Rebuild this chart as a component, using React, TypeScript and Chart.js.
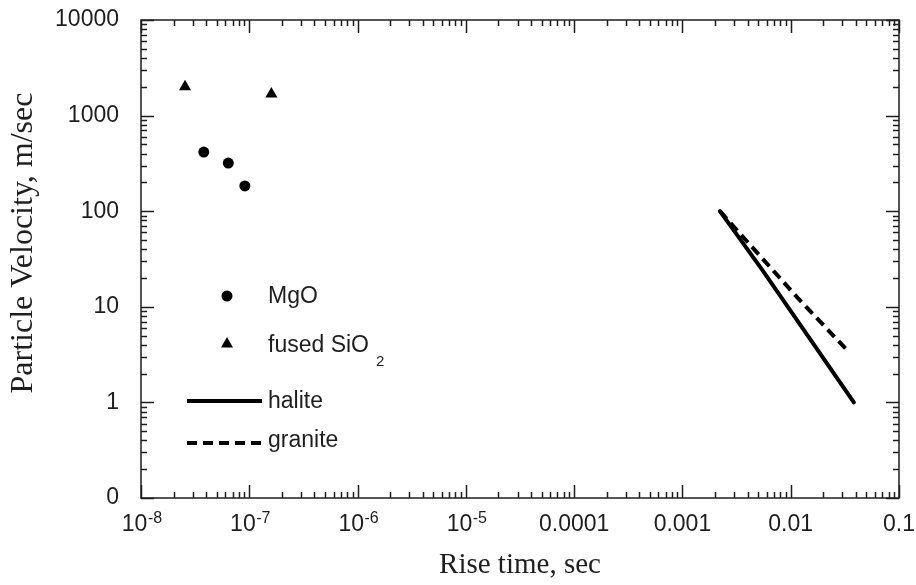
import { useEffect, useRef } from 'react';
import { Chart, registerables } from 'chart.js';

Chart.register(...registerables);

// ---- data ----
const mgoRiseTime = [3.8e-8, 6.4e-8, 9.1e-8];
const mgoVelocity = [416, 319, 184];
const sio2RiseTime = [2.55e-8, 1.6e-7];
const sio2Velocity = [2000, 1680];
const haliteRiseTime = [0.00222, 0.0055, 0.0383];
const haliteVelocity = [100, 24, 1];
const graniteRiseTime = [0.00222, 0.0116, 0.0344];
const graniteVelocity = [100, 12.4, 3.37];

const xTickValues = [1e-8, 1e-7, 1e-6, 1e-5, 1e-4, 1e-3, 1e-2, 1e-1];
const xTickLabels = ['10', '10', '10', '10', '0.0001', '0.001', '0.01', '0.1'];
const xTickExponents = ['-8', '-7', '-6', '-5', '', '', '', ''];
const yTickValues = [0.1, 1, 10, 100, 1000, 10000];
const yTickLabels = ['0', '1', '10', '100', '1000', '10000'];

const legendLabels = ['MgO', 'fused SiO', 'halite', 'granite'];
const legendSubscripts = ['', '2', '', ''];

const SANS = '"Liberation Sans", Arial, Helvetica, sans-serif';
const SERIF = '"Liberation Serif", "Times New Roman", serif';
const INK = '#1e1e1e';
const TICK_SIZE = 23;
const SUP_SIZE = 16;

const pts = (xs: number[], ys: number[]) => xs.map((x, i) => ({ x, y: ys[i] }));

const frameTicksPlugin = {
  id: 'frameTicks',
  afterDatasetsDraw(chart: any) {
    const { ctx, chartArea: a, scales } = chart;
    const xs = scales.x;
    const ys = scales.y;
    const major = 13;
    const minor = 6;
    ctx.save();
    ctx.strokeStyle = INK;
    ctx.lineWidth = 1.5;
    ctx.strokeRect(a.left, a.top, a.right - a.left, a.bottom - a.top);
    ctx.beginPath();
    for (const base of xTickValues) {
      for (let m = 1; m <= 9; m++) {
        const v = base * m;
        if (v > xs.max * 1.0001) break;
        const px = Math.round(xs.getPixelForValue(v)) + 0.5;
        const len = m === 1 ? major : minor;
        ctx.moveTo(px, a.bottom);
        ctx.lineTo(px, a.bottom - len);
        ctx.moveTo(px, a.top);
        ctx.lineTo(px, a.top + len);
      }
    }
    for (const base of yTickValues) {
      for (let m = 1; m <= 9; m++) {
        const v = base * m;
        if (v > ys.max * 1.0001) break;
        const py = Math.round(ys.getPixelForValue(v)) + 0.5;
        const len = m === 1 ? major : minor;
        ctx.moveTo(a.left, py);
        ctx.lineTo(a.left + len, py);
        ctx.moveTo(a.right, py);
        ctx.lineTo(a.right - len, py);
      }
    }
    ctx.stroke();

    // superscript exponents of the x tick labels
    ctx.fillStyle = INK;
    ctx.textBaseline = 'alphabetic';
    ctx.textAlign = 'left';
    xTickValues.forEach((v, i) => {
      const exp = xTickExponents[i];
      if (!exp) return;
      ctx.font = `${TICK_SIZE}px ${SANS}`;
      const full = ctx.measureText(xTickLabels[i] + '  ').width;
      const base = ctx.measureText(xTickLabels[i]).width;
      const px = xs.getPixelForValue(v);
      ctx.font = `${SUP_SIZE}px ${SANS}`;
      ctx.fillText(exp, px - full / 2 + base + 0.5, a.bottom + 25);
    });
    ctx.restore();
  },
};

const legendPlugin = {
  id: 'insideLegend',
  afterDraw(chart: any) {
    const { ctx, chartArea: a } = chart;
    const ds = chart.data.datasets;
    const markerX = a.left + 86;
    const lineX0 = a.left + 46;
    const lineX1 = a.left + 121;
    const textX = a.left + 127;
    const rowBase = [303, 352, 408, 447];
    const rowMark = [296, 343, 401, 443];
    ctx.save();
    ctx.fillStyle = INK;
    ctx.textBaseline = 'alphabetic';
    ctx.textAlign = 'left';
    ds.forEach((d: any, i: number) => {
      const my = rowMark[i];
      if (d.showLine) {
        ctx.save();
        ctx.strokeStyle = d.borderColor;
        ctx.lineWidth = d.borderWidth;
        ctx.setLineDash(d.borderDash || []);
        ctx.beginPath();
        ctx.moveTo(lineX0, my);
        ctx.lineTo(lineX1, my);
        ctx.stroke();
        ctx.restore();
      } else {
        ctx.save();
        ctx.fillStyle = d.backgroundColor;
        ctx.beginPath();
        if (d.pointStyle === 'triangle') {
          const r = 6;
          ctx.moveTo(markerX, my - r);
          ctx.lineTo(markerX + r, my + r * 0.75);
          ctx.lineTo(markerX - r, my + r * 0.75);
          ctx.closePath();
        } else {
          ctx.arc(markerX, my, 5.5, 0, Math.PI * 2);
        }
        ctx.fill();
        ctx.restore();
      }
      const label = legendLabels[i];
      ctx.font = `23px ${SANS}`;
      ctx.fillText(label, textX, rowBase[i]);
      if (legendSubscripts[i]) {
        const w = ctx.measureText(label).width;
        ctx.font = `15px ${SANS}`;
        ctx.fillText(legendSubscripts[i], textX + w + 7, rowBase[i] + 14);
      }
    });
    ctx.restore();
  },
};

const zeroPadding = (scale: any) => {
  scale.paddingTop = 0;
  scale.paddingBottom = 0;
  scale.paddingLeft = 0;
  scale.paddingRight = 0;
};

export default function App() {
  const canvasRef = useRef<HTMLCanvasElement | null>(null);

  useEffect(() => {
    const canvas = canvasRef.current;
    if (!canvas) return;
    const chart = new Chart(canvas, {
      type: 'scatter',
      data: {
        datasets: [
          {
            label: 'MgO',
            data: pts(mgoRiseTime, mgoVelocity),
            pointStyle: 'circle',
            pointRadius: 5.5,
            backgroundColor: '#000',
            borderColor: '#000',
            borderWidth: 0,
            showLine: false,
          },
          {
            label: 'fused SiO2',
            data: pts(sio2RiseTime, sio2Velocity),
            pointStyle: 'triangle',
            pointRadius: 7,
            backgroundColor: '#000',
            borderColor: '#000',
            borderWidth: 0,
            showLine: false,
          },
          {
            label: 'halite',
            data: pts(haliteRiseTime, haliteVelocity),
            showLine: true,
            pointRadius: 0,
            borderColor: '#000',
            backgroundColor: '#000',
            borderWidth: 4,
            borderCapStyle: 'round',
            tension: 0,
          },
          {
            label: 'granite',
            data: pts(graniteRiseTime, graniteVelocity),
            showLine: true,
            pointRadius: 0,
            borderColor: '#000',
            backgroundColor: '#000',
            borderWidth: 4,
            borderDash: [10, 6],
            tension: 0,
          },
        ],
      } as any,
      options: {
        animation: false,
        responsive: false,
        maintainAspectRatio: false,
        layout: { padding: { left: 0, top: 20, right: 17, bottom: 0 } },
        plugins: {
          legend: { display: false },
          tooltip: { enabled: false },
        },
        scales: {
          x: {
            type: 'logarithmic',
            min: 1e-8,
            max: 0.1,
            grid: { display: false, drawTicks: false },
            border: { display: false },
            afterBuildTicks: (scale: any) => {
              scale.ticks = xTickValues.map((v) => ({ value: v }));
            },
            afterFit: (scale: any) => {
              scale.height = 87;
              zeroPadding(scale);
            },
            ticks: {
              autoSkip: false,
              maxRotation: 0,
              minRotation: 0,
              padding: 13,
              color: INK,
              font: { family: SANS, size: TICK_SIZE },
              callback: (_v: any, i: number) =>
                xTickExponents[i] ? xTickLabels[i] + '  ' : xTickLabels[i],
            },
            title: {
              display: true,
              text: 'Rise time, sec',
              color: INK,
              font: { family: SERIF, size: 29 },
              padding: { top: 0, bottom: 2 },
            },
          },
          y: {
            type: 'logarithmic',
            min: 0.1,
            max: 10000,
            grid: { display: false, drawTicks: false },
            border: { display: false },
            afterBuildTicks: (scale: any) => {
              scale.ticks = yTickValues.map((v) => ({ value: v }));
            },
            afterFit: (scale: any) => {
              scale.width = 141;
              zeroPadding(scale);
            },
            ticks: {
              autoSkip: false,
              padding: 22,
              color: INK,
              font: { family: SANS, size: TICK_SIZE },
              callback: (_v: any, i: number) => yTickLabels[i],
            },
            title: {
              display: true,
              text: '    Particle Velocity, m/sec',
              color: INK,
              font: { family: SERIF, size: 32 },
              padding: { top: 4, bottom: 0 },
            },
          },
        },
      } as any,
      plugins: [frameTicksPlugin, legendPlugin],
    });
    return () => chart.destroy();
  }, []);

  return (
    <div style={{ position: 'absolute', left: 0, top: 0, width: 916, height: 585, background: '#fff' }}>
      <canvas ref={canvasRef} width={916} height={585} style={{ width: 916, height: 585, display: 'block' }} />
    </div>
  );
}
